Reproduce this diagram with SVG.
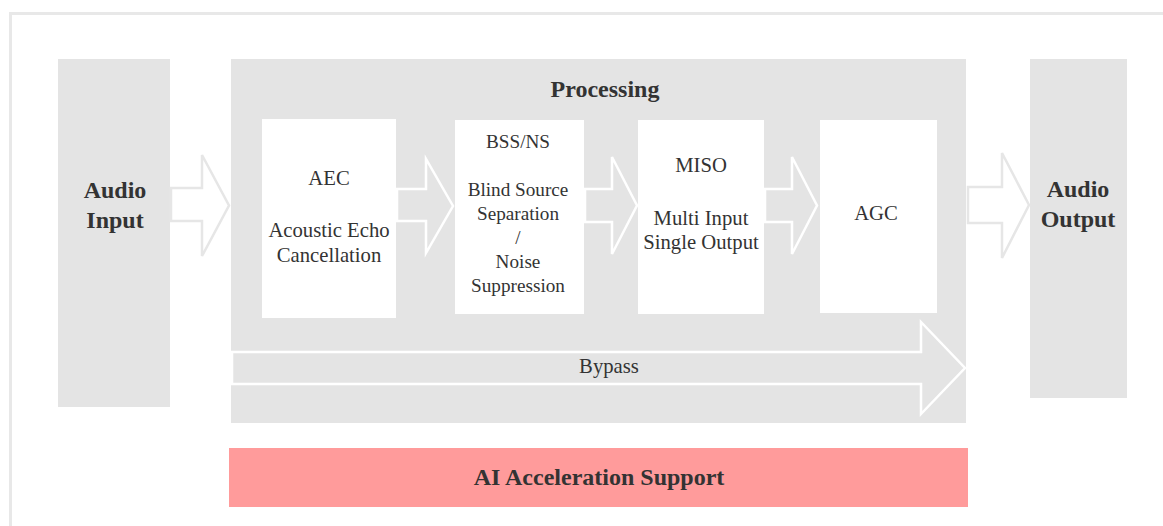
<svg xmlns="http://www.w3.org/2000/svg" width="1163" height="526" viewBox="0 0 1163 526">
<style>
.bg{fill:#e4e4e4}
.box{fill:#ffffff}
.t{font-family:"Liberation Serif","Times New Roman",serif;font-size:20.7px;fill:#333333;text-anchor:middle}
.s{font-size:19.2px}
.b{font-family:"Liberation Serif","Times New Roman",serif;font-size:24px;font-weight:bold;fill:#333333;text-anchor:middle}
.arrIn{fill:none;stroke:#ffffff;stroke-width:2.5}
.arrOut{fill:#ffffff;stroke:#e6e6e6;stroke-width:2.5}
</style>
<rect width="1163" height="526" fill="#ffffff"/>
<rect x="10.5" y="13.5" width="1170" height="530" fill="none" stroke="#e8e8e8" stroke-width="3"/>

<g id="audio-input">
<rect class="bg" x="58" y="59" width="112" height="348"/>
<text class="b" x="115" y="198">Audio</text>
<text class="b" x="115" y="228">Input</text>
</g>

<g id="processing">
<rect class="bg" x="231" y="59" width="735" height="364"/>
<text class="b" x="605" y="97">Processing</text>
</g>

<g id="audio-output">
<rect class="bg" x="1030" y="59" width="97" height="339"/>
<text class="b" x="1078" y="197">Audio</text>
<text class="b" x="1078" y="227">Output</text>
</g>

<g id="aec">
<rect class="box" x="262" y="119" width="134" height="199"/>
<text class="t" x="329" y="185">AEC</text>
<text class="t" x="329" y="237">Acoustic Echo</text>
<text class="t" x="329" y="262">Cancellation</text>
</g>

<g id="bss-ns">
<rect class="box" x="455" y="120" width="129" height="194"/>
<text class="t s" x="518" y="148">BSS/NS</text>
<text class="t s" x="518" y="196">Blind Source</text>
<text class="t s" x="518" y="220">Separation</text>
<text class="t s" x="518" y="244">/</text>
<text class="t s" x="518" y="268">Noise</text>
<text class="t s" x="518" y="292">Suppression</text>
</g>

<g id="miso">
<rect class="box" x="638" y="120" width="126" height="194"/>
<text class="t" x="701" y="172">MISO</text>
<text class="t" x="701" y="225">Multi Input</text>
<text class="t" x="701" y="249">Single Output</text>
</g>

<g id="agc">
<rect class="box" x="820" y="120" width="117" height="193"/>
<text class="t" x="876" y="220">AGC</text>
</g>

<g id="ai-acceleration">
<rect x="229" y="448" width="739" height="59" fill="#ff9b9b"/>
<text class="b" x="599" y="485">AI Acceleration Support</text>
</g>

<g id="connectors">
<polygon class="arrOut" points="171,188 202,188 202,155 229,205.5 202,256 202,221 171,221"/>
<polygon class="arrIn" points="397,189 426,189 426,159 453,206 426,253 426,221 397,221"/>
<polygon class="arrIn" points="585,189 612,189 612,157 637,205.5 612,254 612,222 585,222"/>
<polygon class="arrIn" points="765,189 792,189 792,157 817,205.5 792,254 792,222 765,222"/>
<polygon class="arrOut" points="968,187 1002,187 1002,153 1029,205 1002,258 1002,223 968,223"/>
<polygon class="arrIn" points="232,352 921,352 921,322 965,368 921,414 921,384 232,384"/>
<text class="t" x="609" y="373">Bypass</text>
</g>
</svg>
